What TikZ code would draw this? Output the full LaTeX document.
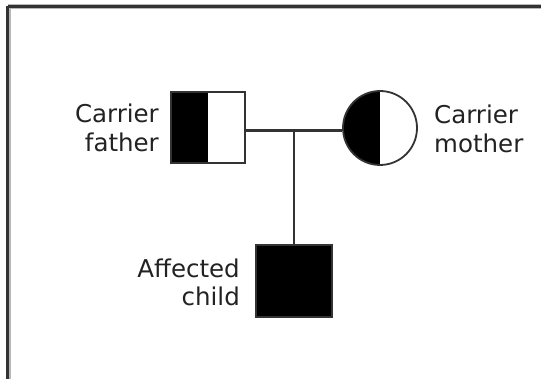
\documentclass[tikz,border=0pt]{standalone}
\usepackage{fontspec}
\setmainfont{DejaVu Sans}
\definecolor{ink}{HTML}{333333}
\definecolor{txt}{HTML}{222222}
\definecolor{halo}{HTML}{B8B8B8}
\begin{document}
\begin{tikzpicture}[x=1pt,y=-1pt,
  lbl/.style={inner sep=0pt, text=txt, font=\fontsize{24.5}{28.5}\selectfont},
  halffill/.style={path picture={\fill[black] (path picture bounding box.north west) rectangle (path picture bounding box.south);}},
  male/.style={draw=ink, line width=1.8pt, fill=white, rectangle, inner sep=0pt},
  female/.style={draw=ink, line width=1.8pt, fill=white, circle, inner sep=0pt},
  link/.style={draw=ink, line width=2.4pt}
]
\useasboundingbox (0,0) rectangle (541,379);
% frame along top and left edges
\draw[halo, line width=5pt] (8,7) -- (545,7);
\draw[halo, line width=5pt] (8,7) -- (8,383);
\draw[ink, line width=2.2pt] (7.5,6.5) -- (545,6.5);
\draw[ink, line width=2.2pt] (7.5,6.5) -- (7.5,383);

% parents
\node[male, halffill, minimum width=74pt, minimum height=71pt] (father) at (208,127.5) {};
\node[female, halffill, minimum size=74pt] (mother) at (380,128) {};
% child
\node[male, fill=black, minimum width=76pt, minimum height=72pt] (child) at (294,281) {};

% marriage and descent lines
\coordinate (mid) at (294,130.5);
\path[link] (father.east |- mid) -- (mother.west |- mid);
\path[link] (mid) -- (child.north);

% labels
\node[lbl, align=right, anchor=east] (flab) at (159,127.7) {Carrier\\father};
\node[lbl, align=left, anchor=west] (mlab) at (434,128.7) {Carrier\\mother};
\node[lbl, align=right, anchor=east] (clab) at (240,282.2) {Affected\\child};
\end{tikzpicture}
\end{document}
